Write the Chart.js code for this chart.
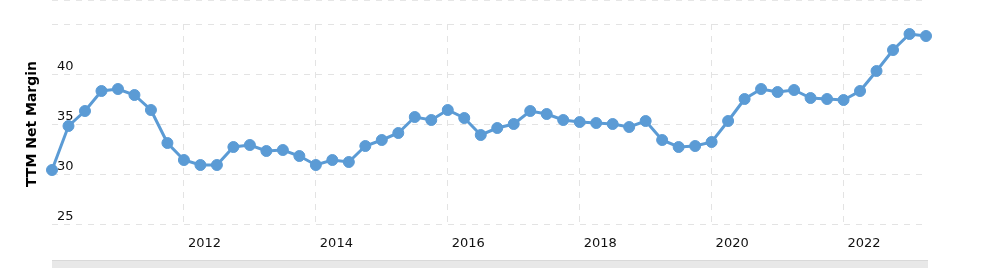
<!DOCTYPE html>
<html>
<head>
<meta charset="utf-8">
<script src="https://cdn.jsdelivr.net/npm/chart.js@4/dist/chart.umd.min.js"></script>
<style>
  html, body { margin: 0; padding: 0; background: #ffffff; }
  #wrap { width: 994px; height: 268px; position: relative; }
</style>
</head>
<body>
<div id="wrap"><canvas id="c" width="994" height="268"></canvas></div>
<script>
// Quarter-end dates (categories)
const categories = [
  '2009-12-31','2010-03-31','2010-06-30','2010-09-30','2010-12-31',
  '2011-03-31','2011-06-30','2011-09-30','2011-12-31',
  '2012-03-31','2012-06-30','2012-09-30','2012-12-31',
  '2013-03-31','2013-06-30','2013-09-30','2013-12-31',
  '2014-03-31','2014-06-30','2014-09-30','2014-12-31',
  '2015-03-31','2015-06-30','2015-09-30','2015-12-31',
  '2016-03-31','2016-06-30','2016-09-30','2016-12-31',
  '2017-03-31','2017-06-30','2017-09-30','2017-12-31',
  '2018-03-31','2018-06-30','2018-09-30','2018-12-31',
  '2019-03-31','2019-06-30','2019-09-30','2019-12-31',
  '2020-03-31','2020-06-30','2020-09-30','2020-12-31',
  '2021-03-31','2021-06-30','2021-09-30','2021-12-31',
  '2022-03-31','2022-06-30','2022-09-30','2022-12-31',
  '2023-03-31'
];

// TTM Net Margin (%)
const netMargin = [
  30.4, 34.8, 36.3, 38.3, 38.5,
  37.9, 36.4, 33.1, 31.4,
  30.9, 30.9, 32.7, 32.9,
  32.3, 32.4, 31.8, 30.9,
  31.4, 31.2, 32.8, 33.4,
  34.1, 35.7, 35.4, 36.4,
  35.6, 33.9, 34.6, 35.0,
  36.3, 36.0, 35.4, 35.2,
  35.1, 35.0, 34.7, 35.3,
  33.4, 32.7, 32.8, 33.2,
  35.3, 37.5, 38.5, 38.2,
  38.4, 37.6, 37.5, 37.4,
  38.3, 40.3, 42.4, 44.0,
  43.8
];

// X-axis tick labels (years)
const yearTicks = ['2012', '2014', '2016', '2018', '2020', '2022'];
// Y-axis tick values
const yTicks = [25, 30, 35, 40, 45];
const yLabelsShown = [25, 30, 35, 40];

const yearTickIndex = yearTicks.map(y => categories.indexOf((Number(y) - 1) + '-12-31'));

const points = netMargin.map((v, i) => ({ x: i, y: v }));

const decor = {
  id: 'decor',
  beforeDraw(chart) {
    const { ctx, chartArea } = chart;
    ctx.save();
    // faint dashed line at very top (from page above)
    ctx.strokeStyle = '#e6e6e6';
    ctx.lineWidth = 1;
    ctx.setLineDash([6, 6]);
    ctx.beginPath();
    ctx.moveTo(chartArea.left, 0.5);
    ctx.lineTo(chartArea.right, 0.5);
    ctx.stroke();
    ctx.setLineDash([]);
    // navigator bar at bottom
    const h = chart.height;
    ctx.fillStyle = '#e8e8e8';
    ctx.fillRect(chartArea.left, h - 8, chartArea.right - chartArea.left + 2, 8);
    ctx.fillStyle = '#d9d9d9';
    ctx.fillRect(chartArea.left, h - 8, chartArea.right - chartArea.left + 2, 1);
    ctx.restore();
  }
};

new Chart(document.getElementById('c'), {
  type: 'line',
  data: {
    datasets: [{
      label: 'TTM Net Margin',
      data: points,
      borderColor: '#5b9bd5',
      backgroundColor: '#5b9bd5',
      pointBackgroundColor: '#5b9bd5',
      pointBorderColor: '#5b9bd5',
      borderWidth: 3,
      pointRadius: 5.5,
      pointBorderWidth: 1,
      pointHoverRadius: 5.5,
      tension: 0,
      fill: false,
      clip: false
    }]
  },
  options: {
    responsive: false,
    animation: false,
    events: [],
    layout: { padding: { top: 24, right: 68, left: 0, bottom: 0 } },
    plugins: { legend: { display: false }, tooltip: { enabled: false } },
    scales: {
      x: {
        type: 'linear',
        min: 0,
        max: categories.length - 1,
        afterBuildTicks(scale) {
          scale.ticks = yearTickIndex.map(v => ({ value: v }));
        },
        afterFit(scale) { scale.height = 44; },
        grid: { color: '#e3e3e3', lineWidth: 1, drawTicks: false },
        border: { display: false, dash: [6, 6] },
        ticks: {
          autoSkip: false,
          maxRotation: 0,
          align: 'start',
          labelOffset: 4,
          padding: 12,
          color: '#111',
          font: { family: 'DejaVu Sans', size: 13 },
          callback(v) {
            const k = yearTickIndex.indexOf(v);
            return k >= 0 ? yearTicks[k] : '';
          }
        }
      },
      y: {
        min: yTicks[0],
        max: yTicks[yTicks.length - 1],
        afterBuildTicks(scale) {
          scale.ticks = yTicks.map(v => ({ value: v }));
        },
        afterFit(scale) { scale.width = 52; },
        grid: { color: '#e3e3e3', lineWidth: 1, drawTicks: false },
        border: { display: false, dash: [6, 6] },
        title: {
          display: true,
          text: 'TTM Net Margin',
          color: '#000',
          font: { family: 'DejaVu Sans', size: 14, weight: 'bold' },
          padding: { top: 24, bottom: 0 }
        },
        ticks: {
          mirror: true,
          padding: 5,
          labelOffset: -7,
          color: '#111',
          font: { family: 'DejaVu Sans', size: 13 },
          callback(v) { return yLabelsShown.includes(v) ? String(v) : ''; }
        }
      }
    }
  },
  plugins: [decor]
});
</script>
</body>
</html>
